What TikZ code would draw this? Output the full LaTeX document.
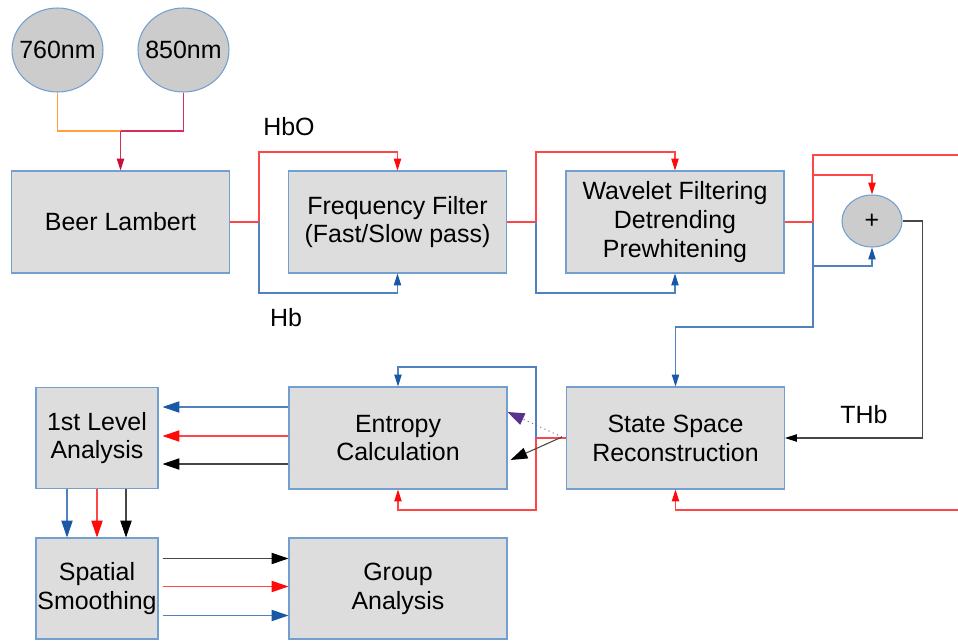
\documentclass[tikz,border=0pt]{standalone}
\usepackage{fontspec}
\setmainfont{Liberation Sans}
\usepackage{tikz}
\usetikzlibrary{shapes.geometric, arrows.meta, calc}
\definecolor{boxgray}{RGB}{221,221,221}
\definecolor{ballgray}{RGB}{204,204,204}
\definecolor{rimblue}{RGB}{114,159,207}
\definecolor{hbblue}{RGB}{24,88,165}
\definecolor{hbline}{RGB}{80,130,195}
\definecolor{hbored}{RGB}{255,10,10}
\definecolor{hboline}{RGB}{255,70,70}
\definecolor{thbline}{RGB}{70,70,70}
\definecolor{lamporange}{RGB}{255,160,60}
\definecolor{lampred}{RGB}{200,15,60}
\definecolor{lampline}{RGB}{215,45,90}
\definecolor{dotpurple}{RGB}{88,50,140}
\tikzstyle{block} = [rectangle, draw=rimblue, fill=boxgray, line width=0.6pt, align=center, inner sep=0pt, minimum width=4.36cm, minimum height=2.04cm, font=\fontsize{14.2}{16.4}\selectfont]
\tikzstyle{small block} = [block, minimum width=2.44cm, minimum height=2.02cm]
\tikzstyle{lamp} = [ellipse, draw=rimblue, fill=ballgray, line width=0.6pt, inner xsep=-0.12cm, inner ysep=0pt, minimum width=1.82cm, minimum height=1.68cm, font=\fontsize{14.2}{16.4}\selectfont]
\tikzstyle{signame} = [font=\fontsize{14.2}{16.4}\selectfont]
\tikzstyle{hbo} = [line width=0.6pt, draw=hboline, >={Triangle[length=6.8pt,width=4.2pt,color=hbored]}]
\tikzstyle{hb} = [line width=0.6pt, draw=hbline, >={Triangle[length=6.8pt,width=4.2pt,color=hbblue]}]
\tikzstyle{thb} = [line width=0.6pt, draw=thbline, >={Triangle[length=6.8pt,width=4.2pt,color=black]}]
\tikzstyle{hbo big} = [hbo, >={Triangle[length=9.6pt,width=6.4pt,color=hbored]}]
\tikzstyle{hb big} = [hb, >={Triangle[length=9.6pt,width=6.4pt,color=hbblue]}]
\tikzstyle{thb big} = [thb, >={Triangle[length=9.6pt,width=6.4pt,color=black]}]

\begin{document}
\begin{tikzpicture}[x=0.02cm, y=-0.02cm]
\useasboundingbox (0,0) rectangle (958,640);

% sources
\node[lamp] (nm760) at (57.5,50) {760nm};
\node[lamp] (nm850) at (183.5,50) {850nm};

% top row
\node[block] (beer) at (120.5,222) {Beer Lambert};
\node[block] (freq) at (397.5,222) {Frequency Filter\\(Fast/Slow pass)};
\node[block] (wavelet) at (675,222) {Wavelet Filtering\\Detrending\\Prewhitening};
\node[ellipse, draw=rimblue, fill=ballgray, line width=0.6pt, minimum width=1.2cm, minimum height=1.04cm, signame] (plus) at (872,221) {+};

% middle row
\node[block] (state) at (675.5,438) {State Space\\Reconstruction};
\node[block] (entropy) at (398,438) {Entropy\\Calculation};
\node[small block] (first) at (97,438) {1st Level\\Analysis};

% bottom row
\node[small block] (spatial) at (97,588.5) {Spatial\\Smoothing};
\node[block, minimum height=2.02cm] (group) at (398,588.5) {Group\\Analysis};

\coordinate (join) at (120.5,131);
\coordinate (s1) at (259,222);
\coordinate (s2) at (536,222);
\coordinate (s3) at (813,222);
\coordinate (s4) at (813,175);
\coordinate (out1) at (958,155);
\coordinate (out2) at (958,510);
\coordinate (s5) at ($(state.west)+(-30,0)$);

% wavelengths into Beer Lambert
\draw[line width=0.6pt, lamporange] (nm760.south) |- (join);
\draw[line width=0.6pt, lampline] (nm850.south) |- (join);
\draw[line width=0.6pt, lampline, -{Triangle[length=6.8pt,width=4.2pt,color=lampred]}] (join) -- (beer.north);

% HbO / Hb
\draw[hbo] (beer.east) -- (s1);
\draw[hbo, ->] (s1) -- ++(0,-70) -| (freq.north);
\draw[hb, ->] (s1) -- ++(0,71) -| (freq.south);
\node[signame] at (289,127) {HbO};
\node[signame] at (286,318) {Hb};

\draw[hbo] (freq.east) -- (s2);
\draw[hbo, ->] (s2) -- ++(0,-70) -| (wavelet.north);
\draw[hb, ->] (s2) -- ++(0,71) -| (wavelet.south);

\draw[hbo] (wavelet.east) -- (s3) |- (out1);
\draw[hbo, ->] (s4) -| (plus.north);
\draw[hb, ->] (s3) -- ++(0,44) -| (plus.south);
\draw[hb, ->] (s3) -- ++(0,105) -| (state.north);

% THb
\draw[thb, ->] (plus.east) -- ++(20,0) |- (state.east);
\node[signame] at (864,415) {THb};
\draw[hbo, ->] (out2) -| (state.south);

% into entropy
\draw[hbo, ->] (state.west) -- (s5) -- ++(0,72) -| (entropy.south);
\draw[hb, ->] (s5) -- ++(0,-71) -| (entropy.north);
\draw[line width=0.6pt, dotpurple!70, dotted, -{Triangle[length=9.6pt,width=7pt,color=dotpurple]}] ($(state.west)+(-4,-1)$) -- ($(entropy.east)+(0,-26)$);
\draw[thb big, ->] ($(state.west)+(-4,-1)$) -- ($(entropy.east)+(3,22)$);

% to 1st level
\draw[hb big, ->] ($(entropy.west)+(0,-31)$) -- ($(first.east)+(4,-31)$);
\draw[hbo big, ->] ($(entropy.west)+(0,-2)$) -- ($(first.east)+(4,-2)$);
\draw[thb big, ->] ($(entropy.west)+(0,26)$) -- ($(first.east)+(4,26)$);

\draw[hb big, ->] ($(first.south)+(-30,0)$) -- ($(spatial.north)+(-30,0)$);
\draw[hbo big, ->] (first.south) -- (spatial.north);
\draw[thb big, ->] ($(first.south)+(29,0)$) -- ($(spatial.north)+(29,0)$);

\draw[thb big, ->] ($(spatial.east)+(4,-30)$) -- ($(group.west)+(0,-30)$);
\draw[hbo big, ->] ($(spatial.east)+(4,-2)$) -- ($(group.west)+(0,-2)$);
\draw[hb big, ->] ($(spatial.east)+(4,27)$) -- ($(group.west)+(0,27)$);
\end{tikzpicture}
\end{document}
